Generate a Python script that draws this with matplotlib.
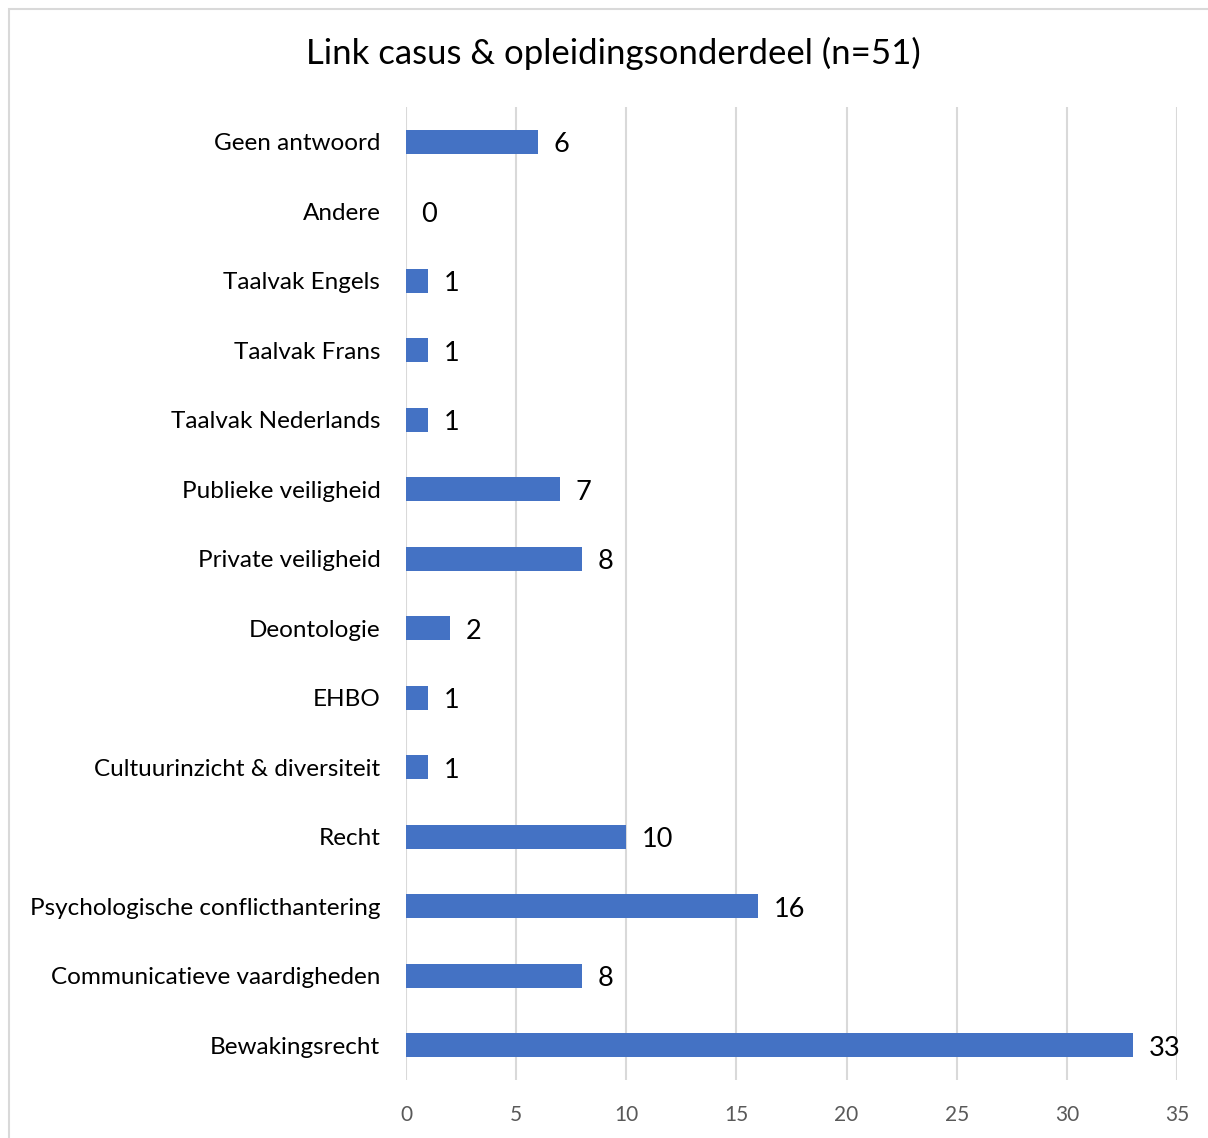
import matplotlib.pyplot as plt
from matplotlib.patches import Rectangle
import numpy as np

plt.rcParams['font.family'] = ['Lato', 'DejaVu Sans']

# data, top to bottom as in the chart
categories = ['Geen antwoord', 'Andere', 'Taalvak Engels', 'Taalvak Frans',
              'Taalvak Nederlands', 'Publieke veiligheid', 'Private veiligheid',
              'Deontologie', 'EHBO', 'Cultuurinzicht & diversiteit', 'Recht',
              'Psychologische conflicthantering', 'Communicatieve vaardigheden',
              'Bewakingsrecht']
counts = [6, 0, 1, 1, 1, 7, 8, 2, 1, 1, 10, 16, 8, 33]
xticks = [0, 5, 10, 15, 20, 25, 30, 35]

fig = plt.figure(figsize=(12.08, 11.38), dpi=100)
ax = fig.add_axes([406/1208, 58/1138, 771/1208, 973/1138])

# light frame around the chart (cut off right/bottom like the screenshot)
fig.patches.append(Rectangle((9/1208, -0.1), 1.2, (1138-9)/1138 + 0.1,
                             transform=fig.transFigure, fill=False,
                             edgecolor='#d9d9d9', linewidth=1.5))

y = np.arange(len(categories))
ax.barh(y, counts, height=0.34, color='#4472C4', zorder=3)
for yi, c in zip(y, counts):
    ax.text(c + 0.7, yi + 0.04, str(c), va='center', ha='left', fontsize=19.5, color='black')

ax.set_yticks(y)
ax.set_yticklabels(categories, fontsize=17.5)
ax.set_ylim(len(categories) - 0.5, -0.5)
ax.set_xlim(0, 35)
ax.set_xticks(xticks)
ax.tick_params(axis='x', labelsize=15, labelcolor='#595959', length=0, pad=18)
ax.tick_params(axis='y', length=0, pad=18.5)
ax.grid(axis='x', color='#d9d9d9', linewidth=1.5, zorder=0)
for s in ax.spines.values():
    s.set_visible(False)

fig.suptitle('Link casus & opleidingsonderdeel (n=51)', fontsize=25, x=613/1208, y=1-53/1138, va='center')

fig.savefig('out.png', dpi=100)
